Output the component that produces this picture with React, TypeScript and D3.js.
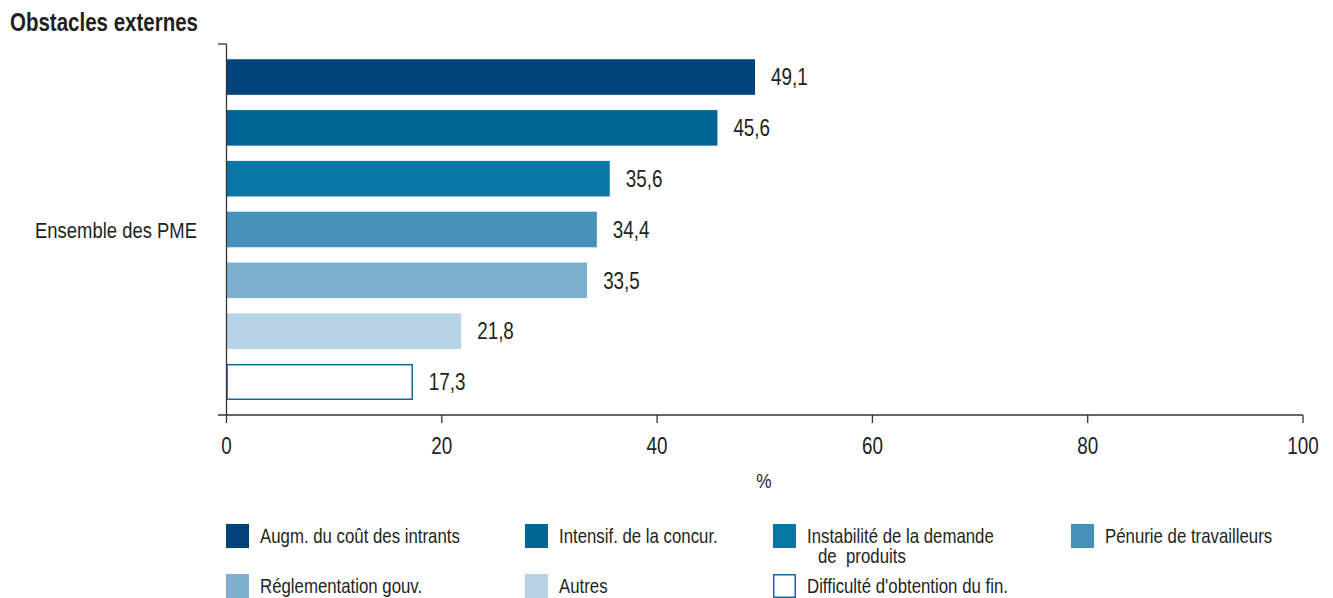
import React from "react";
import * as d3 from "d3";

const title = "Obstacles externes";
const category = "Ensemble des PME";
const series = [
  "Augm. du coût des intrants",
  "Intensif. de la concur.",
  "Instabilité de la demande|de  produits",
  "Pénurie de travailleurs",
  "Réglementation gouv.",
  "Autres",
  "Difficulté d'obtention du fin.",
];
const values = [49.1, 45.6, 35.6, 34.4, 33.5, 21.8, 17.3];
const colors = ["#00427a", "#006595", "#0677a5", "#4591ba", "#7eafcf", "#b7d3e5", "#ffffff"];
const xTicks = [0, 20, 40, 60, 80, 100];
const axisLabel = "%";

const FONT = "'Liberation Sans', Arial, sans-serif";
const W = 1333;
const H = 598;
const SX = 0.82;
const textColor = "#231f20";

function T(props: {
  x: number;
  y: number;
  size: number;
  anchor?: "start" | "middle" | "end";
  bold?: boolean;
  children: React.ReactNode;
}) {
  const { x, y, size, anchor = "start", bold, children } = props;
  return (
    <text
      transform={`translate(${x},${y}) scale(${SX},1)`}
      dy="0.36em"
      textAnchor={anchor}
      fontSize={size}
      fontWeight={bold ? "bold" : "normal"}
      fill={textColor}
      style={{ whiteSpace: "pre" }}
    >
      {children}
    </text>
  );
}

export default function App() {
  const x = d3.scaleLinear().domain([0, 100]).range([226.5, 1303]);
  const y = d3
    .scaleBand<number>()
    .domain(d3.range(values.length))
    .range([44, 415])
    .paddingInner(0.3)
    .paddingOuter(0.3);
  const fmt = (v: number) => v.toFixed(1).replace(".", ",");
  const legendCols = [226, 525, 773, 1071];
  const legendRows = [524, 574];

  return (
    <svg
      width={W}
      height={H}
      style={{ position: "absolute", left: 0, top: 0, fontFamily: FONT }}
    >
      <T x={10} y={22} size={25} bold>
        {title}
      </T>
      {/* bars */}
      {values.map((v, i) => {
        const last = i === values.length - 1;
        return (
          <g key={i}>
            <rect
              x={last ? x(0) + 0.5 : x(0)}
              y={y(i)! + (last ? 0.5 : 0)}
              width={x(v) - x(0) - (last ? 1 : 0)}
              height={y.bandwidth() - (last ? 1 : 0)}
              fill={colors[i]}
              stroke={last ? "#0d6a9c" : "none"}
              strokeWidth={last ? 1.5 : 0}
            />
            <T x={x(v) + 16} y={y(i)! + y.bandwidth() / 2} size={23}>
              {fmt(v)}
            </T>
          </g>
        );
      })}
      {/* y axis */}
      <line x1={226.5} x2={226.5} y1={44} y2={415} stroke="#333" strokeWidth={1.3} />
      <line x1={218} x2={226.5} y1={44} y2={44} stroke="#333" strokeWidth={1.3} />
      <T x={197} y={(44 + 415) / 2} size={22.5} anchor="end">
        {category}
      </T>
      {/* x axis */}
      <line x1={218} x2={x(100)} y1={415} y2={415} stroke="#333" strokeWidth={1.3} />
      {xTicks.map((t) => (
        <g key={t}>
          <line x1={x(t)} x2={x(t)} y1={415} y2={423} stroke="#333" strokeWidth={1.3} />
          <T x={x(t)} y={446} size={23} anchor="middle">
            {t}
          </T>
        </g>
      ))}
      <T x={764} y={480} size={21} anchor="middle">
        {axisLabel}
      </T>
      {/* legend */}
      {series.map((s, i) => {
        const col = i % 4;
        const row = Math.floor(i / 4);
        const lx = legendCols[col];
        const ly = legendRows[row];
        const last = i === series.length - 1;
        const lines = s.split("|");
        return (
          <g key={i}>
            <rect
              x={lx + (last ? 0.75 : 0)}
              y={ly + (last ? 0.75 : 0)}
              width={23 - (last ? 1.5 : 0)}
              height={24 - (last ? 1.5 : 0)}
              fill={colors[i]}
              stroke={last ? "#0d6a9c" : "none"}
              strokeWidth={last ? 1.5 : 0}
            />
            <text
              transform={`translate(${lx + 34},${ly + 12}) scale(${SX},1)`}
              fontSize={20.5}
              fill={textColor}
              style={{ whiteSpace: "pre" }}
            >
              {lines.map((ln, j) => (
                <tspan key={j} x={j > 0 ? 11 / SX : 0} dy={j === 0 ? "0.36em" : 20}>
                  {ln}
                </tspan>
              ))}
            </text>
          </g>
        );
      })}
    </svg>
  );
}
